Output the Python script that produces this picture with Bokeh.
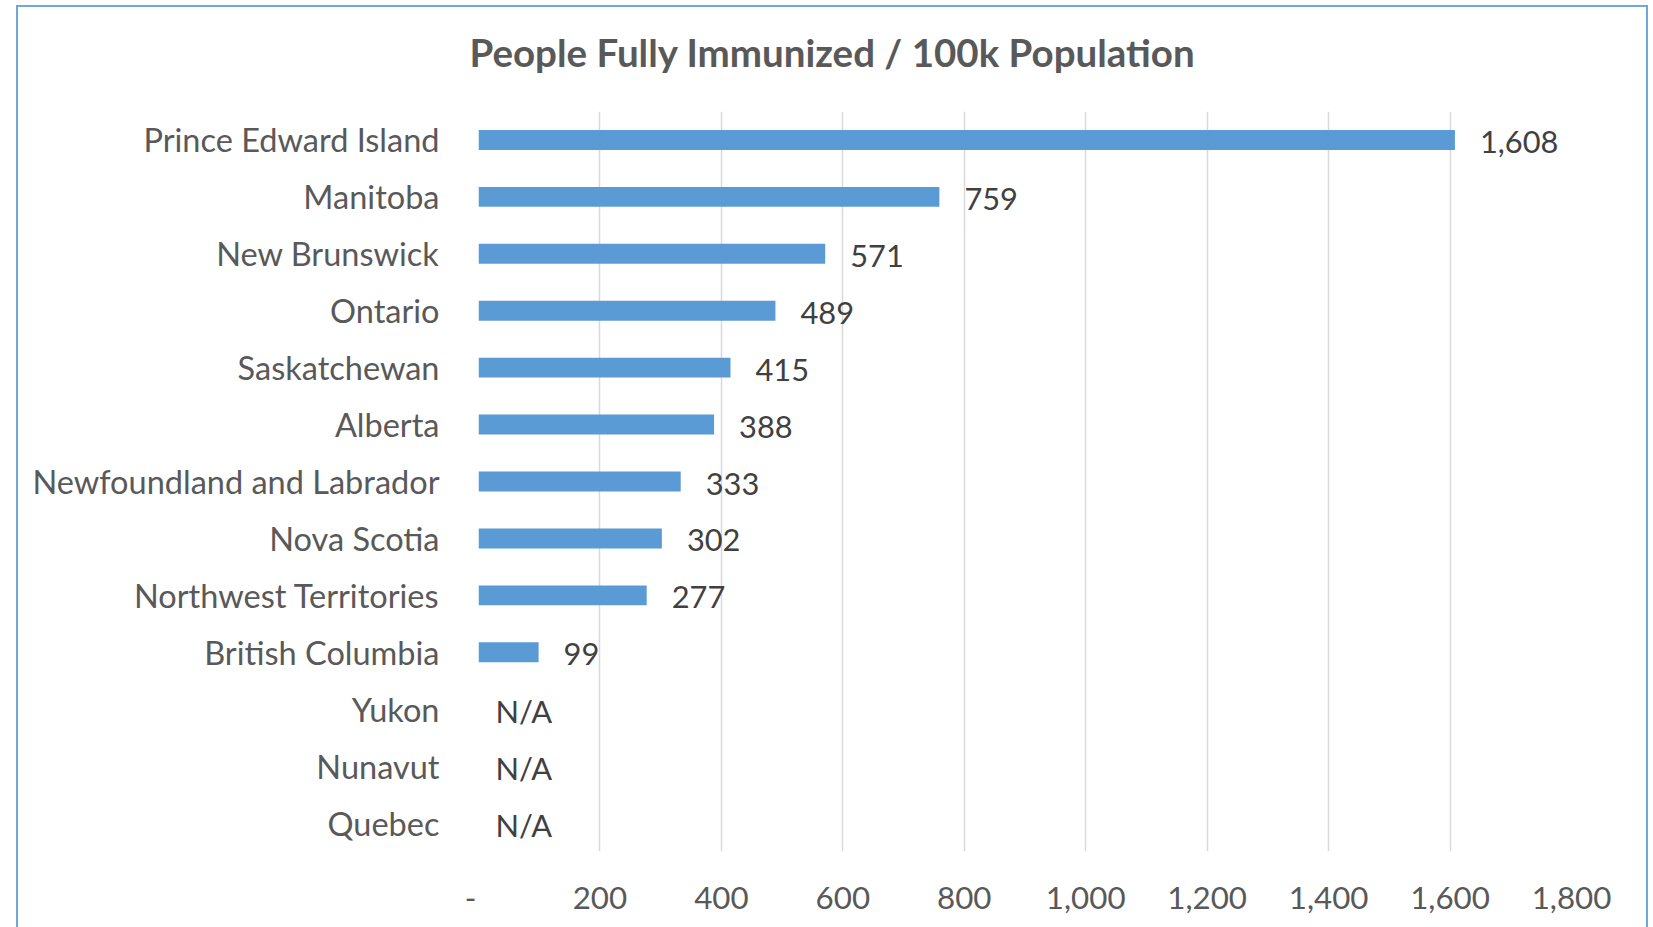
from bokeh.plotting import figure
from bokeh.models import ColumnDataSource, FactorRange, Range1d, FixedTicker, Title
from bokeh.core.properties import value
from bokeh.embed import file_html
from bokeh.resources import INLINE

# ---- data ----
provinces = [
    "Prince Edward Island", "Manitoba", "New Brunswick", "Ontario", "Saskatchewan",
    "Alberta", "Newfoundland and Labrador", "Nova Scotia", "Northwest Territories",
    "British Columbia", "Yukon", "Nunavut", "Quebec",
]
immunized = [1608, 759, 571, 489, 415, 388, 333, 302, 277, 99, None, None, None]
x_ticks = [0, 200, 400, 600, 800, 1000, 1200, 1400, 1600, 1800]
x_tick_labels = ["-\u00a0\u00a0", "200", "400", "600", "800", "1,000", "1,200", "1,400", "1,600", "1,800"]
title_text = "People Fully Immunized / 100k Population"
no_data_label = "N/A"

FONT = "Lato"
AXIS_COLOR = "#595959"
LABEL_COLOR = "#404040"
BAR_COLOR = "#5B9BD5"
BORDER_COLOR = "#6FA8DC"

bar_src = ColumnDataSource(dict(
    prov=[p_ for p_, v in zip(provinces, immunized) if v is not None],
    val=[v for v in immunized if v is not None],
))
lab_src = ColumnDataSource(dict(
    prov=provinces,
    x=[v if v is not None else 0 for v in immunized],
    text=[f"{v:,}" if v is not None else no_data_label for v in immunized],
    xoff=[25 if v is not None else 17 for v in immunized],
))

p = figure(
    width=1628, height=920, title=None,
    y_range=FactorRange(*reversed(provinces)),
    x_range=Range1d(0, 1800),
    output_backend="svg", toolbar_location=None,
    min_border_left=460, min_border_right=75,
    min_border_top=104, min_border_bottom=76,
)
# chart-area frame (Excel-style border around the whole chart)
p.margin = (7, 0, 0, 18)
p.styles = {"outline": f"2px solid {BORDER_COLOR}"}

p.outline_line_color = None
p.background_fill_color = "white"
p.border_fill_color = "white"

# blank spacer between the plot area and the title (first "above" item sits next to the frame)
p.add_layout(Title(text=" ", text_font_size="2px", standoff=28, text_color="white"), "above")
p.add_layout(Title(text=title_text, align="left", offset=-9, standoff=10,
                   text_font=FONT, text_font_size="38.5px", text_font_style="bold",
                   text_color=AXIS_COLOR), "above")

p.hbar(y="prov", right="val", left=0, height=0.35, source=bar_src,
       fill_color=BAR_COLOR, line_color=None)

p.text(x="x", y="prov", text="text", source=lab_src, x_offset="xoff", y_offset=2,
       text_align="left", text_baseline="middle", text_font=value(FONT),
       text_font_size="30.8px", text_color=LABEL_COLOR)

# x axis
p.xaxis.ticker = FixedTicker(ticks=x_ticks)
p.xaxis.major_label_overrides = {t: l for t, l in zip(x_ticks, x_tick_labels)}
p.xaxis.axis_line_color = None
p.xaxis.major_tick_line_color = None
p.xaxis.minor_tick_line_color = None
p.xaxis.major_label_standoff = 20
p.xaxis.major_label_text_font = FONT
p.xaxis.major_label_text_font_size = "31.3px"
p.xaxis.major_label_text_color = AXIS_COLOR

# y axis
p.yaxis.axis_line_color = None
p.yaxis.major_tick_line_color = None
p.yaxis.minor_tick_line_color = None
p.yaxis.major_label_standoff = 33
p.yaxis.major_label_text_font = FONT
p.yaxis.major_label_text_font_size = "32.5px"
p.yaxis.major_label_text_color = AXIS_COLOR

p.ygrid.grid_line_color = None
p.xgrid.grid_line_color = "#D9D9D9"
p.xgrid.grid_line_width = 1.5

open("out.html", "w").write(file_html(p, INLINE))
